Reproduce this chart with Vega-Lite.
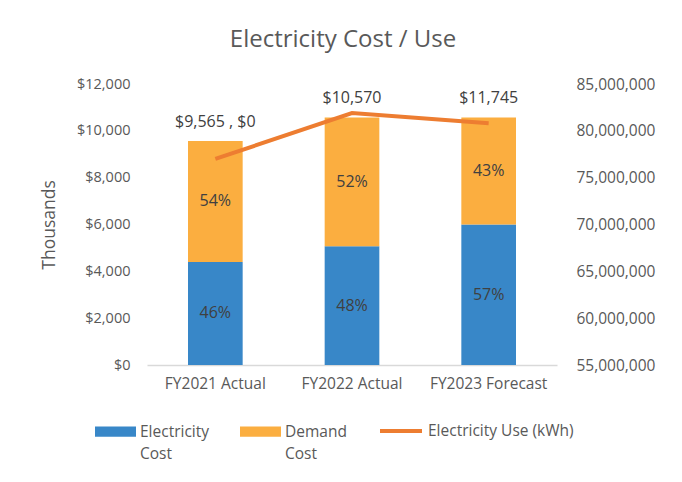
{
  "$schema": "https://vega.github.io/schema/vega-lite/v6.json",
  "width": 410,
  "height": 281,
  "autosize": "none",
  "padding": {"left": 147, "top": 84, "right": 125, "bottom": 117},
  "background": "white",
  "config": {
    "font": "Open Sans",
    "view": {"stroke": null},
    "style": {"guide-label": {"lineHeight": 22}}
  },
  "title": {
    "text": "Electricity Cost / Use",
    "fontSize": 24,
    "fontWeight": "normal",
    "color": "#595959",
    "anchor": "middle",
    "offset": 24,
    "dx": -9
  },
  "datasets": {
    "segments": [
      {"year": "FY2021 Actual", "type": "Electricity Cost", "seg": 1, "value": 4400, "pct": "46%"},
      {"year": "FY2021 Actual", "type": "Demand Cost", "seg": 2, "value": 5165, "pct": "54%"},
      {"year": "FY2022 Actual", "type": "Electricity Cost", "seg": 1, "value": 5074, "pct": "48%"},
      {"year": "FY2022 Actual", "type": "Demand Cost", "seg": 2, "value": 5496, "pct": "52%"},
      {"year": "FY2023 Forecast", "type": "Electricity Cost", "seg": 1, "value": 6000, "pct": "57%"},
      {"year": "FY2023 Forecast", "type": "Demand Cost", "seg": 2, "value": 4570, "pct": "43%"}
    ],
    "totals": [
      {"year": "FY2021 Actual", "total": 9565, "label": "$9,565 , $0"},
      {"year": "FY2022 Actual", "total": 10570, "label": "$10,570"},
      {"year": "FY2023 Forecast", "total": 10570, "label": "$11,745"}
    ],
    "use": [
      {"year": "FY2021 Actual", "kwh": 77000000},
      {"year": "FY2022 Actual", "kwh": 81900000},
      {"year": "FY2023 Forecast", "kwh": 80800000}
    ]
  },
  "encoding": {
    "x": {
      "field": "year",
      "type": "nominal",
      "sort": null,
      "scale": {"paddingInner": 0.6, "paddingOuter": 0.3},
      "axis": {
        "title": null,
        "labelAngle": 0,
        "labelFontSize": 15.5,
        "labelColor": "#595959",
        "labelPadding": 11,
        "ticks": false,
        "domainColor": "#d9d9d9",
        "domainWidth": 1.5
      }
    }
  },
  "layer": [
    {
      "data": {"name": "segments"},
      "encoding": {
        "y": {
          "field": "value",
          "type": "quantitative",
          "stack": "zero",
          "scale": {"domain": [0, 12000], "nice": false},
          "axis": {
            "values": [0, 2000, 4000, 6000, 8000, 10000, 12000],
            "format": "$,d",
            "grid": false,
            "domain": false,
            "ticks": false,
            "labelPadding": 17,
            "labelFontSize": 14.5,
            "labelColor": "#595959",
            "title": "Thousands",
            "titleFontSize": 17.5,
            "titleFontWeight": "normal",
            "titleColor": "#595959",
            "titlePadding": 18
          }
        },
        "order": {"field": "seg", "type": "quantitative"}
      },
      "layer": [
        {
          "mark": {"type": "bar"},
          "encoding": {
            "color": {
              "field": "type",
              "type": "nominal",
              "sort": ["Electricity Cost", "Demand Cost"],
              "scale": {"domain": ["Electricity Cost", "Demand Cost"], "range": ["#3887C8", "#FBAE40"]},
              "legend": {
                "orient": "none",
                "legendX": -52,
                "legendY": 327,
                "direction": "horizontal",
                "title": null,
                "padding": 0,
                "symbolType": "M-1,-0.25H1V0.25H-1Z",
                "symbolSize": 1681,
                "symbolStrokeWidth": 0,
                "labelFontSize": 15.5,
                "labelColor": "#595959",
                "labelOffset": 4,
                "columnPadding": 30,
                "labelExpr": "datum.label == 'Electricity Cost' ? ['Electricity', 'Cost'] : ['Demand', 'Cost']"
              }
            }
          }
        },
        {
          "mark": {"type": "text", "fontSize": 16, "color": "#404040", "baseline": "middle"},
          "encoding": {
            "y": {"field": "value", "type": "quantitative", "stack": "zero", "bandPosition": 0.5},
            "detail": {"field": "type"},
            "text": {"field": "pct"}
          }
        }
      ]
    },
    {
      "data": {"name": "totals"},
      "mark": {"type": "text", "fontSize": 16, "color": "#404040", "baseline": "middle", "dy": -19},
      "encoding": {
        "y": {"field": "total", "type": "quantitative", "scale": {"domain": [0, 12000], "nice": false}, "axis": null},
        "text": {"field": "label"}
      }
    },
    {
      "data": {"name": "use"},
      "mark": {"type": "line", "strokeWidth": 4},
      "encoding": {
        "y": {
          "field": "kwh",
          "type": "quantitative",
          "scale": {"domain": [55000000, 85000000], "nice": false, "zero": false},
          "axis": {
            "orient": "right",
            "values": [55000000, 60000000, 65000000, 70000000, 75000000, 80000000, 85000000],
            "format": ",d",
            "grid": false,
            "domain": false,
            "ticks": false,
            "labelPadding": 19,
            "labelFontSize": 15.5,
            "labelColor": "#595959",
            "title": null
          }
        },
        "stroke": {
          "datum": "Electricity Use (kWh)",
          "type": "nominal",
          "scale": {"range": ["#ED7D31"]},
          "legend": {
            "orient": "none",
            "legendX": 231,
            "legendY": 324,
            "title": null,
            "padding": 0,
            "symbolType": "stroke",
            "symbolSize": 1764,
            "symbolStrokeWidth": 4,
            "labelFontSize": 15.5,
            "labelColor": "#595959",
            "labelOffset": 4
          }
        }
      }
    }
  ],
  "resolve": {"scale": {"y": "independent"}}
}
